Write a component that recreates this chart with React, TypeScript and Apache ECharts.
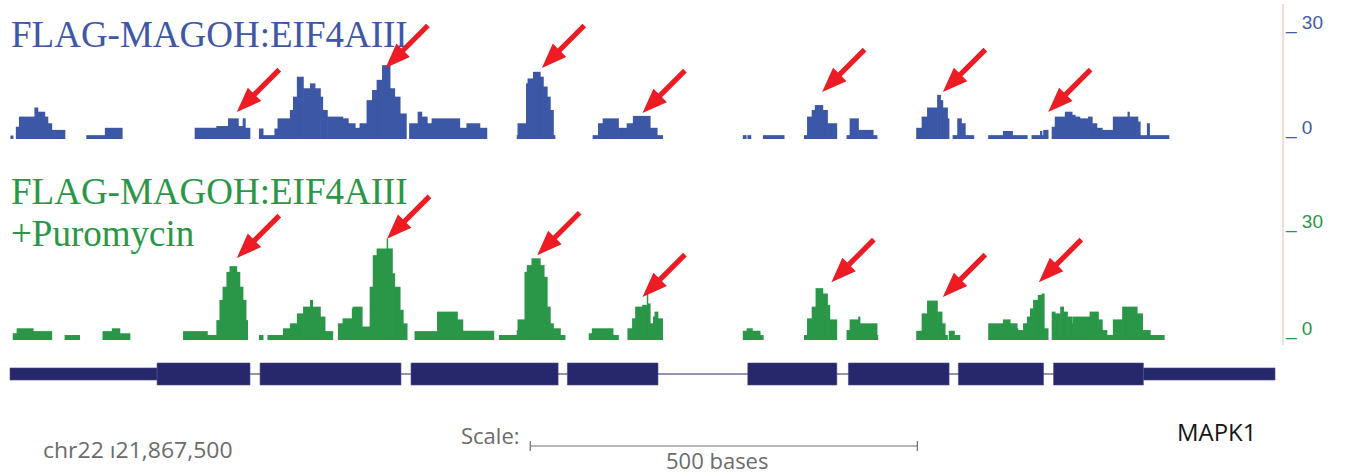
import React, { useEffect, useRef } from 'react';
import * as echarts from 'echarts';

// x axis: bases from the left edge of the window
const SPAN = 1634;
const Y_TICKS = [0, 30];

// coverage runs: [startBase, endBase, value]
const blueRuns: number[][] = [
  [1,4,1],[8,12,3.5],[12,32,6.4],[32,36,9],[36,45,7.8],[45,49,6.4],[49,54,4.5],[54,71,2.6],
  [99,123,1.1],[123,145,3.2],
  [239,267,3.2],[267,282,3.7],[282,295,5.9],[295,301,3.7],[301,304,5.9],[304,310,3.2],
  [322,327,3],[327,342,1.1],[342,346,3],[346,362,5.9],[362,366,8.3],[366,371,12.1],[371,379,17.8],[379,388,14.5],[388,394,15.9],[394,401,14.5],[401,404,12.1],[404,410,8.3],[410,430,6.4],[430,437,5.9],[437,446,4.5],[446,452,3.2],[452,461,4.5],[461,468,11.1],[468,474,14],[474,481,16.9],[481,491,21.1],[491,497,14.5],[497,504,12.1],[504,512,7.3],
  [516,527,4.5],[527,532,7.8],[532,539,6.4],[539,545,4.5],[545,581,5.9],[581,590,3.2],[590,607,4.5],[607,616,3.2],
  [655,656,1.1],[656,667,4.5],[667,669,15.9],[669,676,17.3],[676,685,19.2],[685,689,17.8],[689,694,15],[694,698,12.1],[698,702,8.3],[702,704,1.1],
  [753,760,1.1],[760,766,4.5],[766,786,5.9],[786,797,3.2],[797,805,4.5],[805,827,6.6],[827,836,3.2],[836,843,1.1],
  [947,951,1.1],[953,957,1.1],[973,1000,1.1],
  [1026,1030,1.1],[1030,1036,6.4],[1036,1040,8.3],[1040,1050,9.7],[1050,1056,8.3],[1056,1068,4.5],
  [1081,1085,1.1],[1085,1096,5.9],[1096,1115,2.6],[1115,1120,1.1],
  [1171,1178,3.2],[1178,1185,6.4],[1185,1198,9],[1198,1202,12.6],[1202,1205,11.1],[1205,1211,9],[1211,1213,5.9],
  [1218,1224,1.1],[1224,1229,5.9],[1229,1234,4.5],[1234,1245,1.1],
  [1264,1283,1.1],[1283,1295,2.3],[1295,1314,1.1],
  [1320,1331,1.1],[1331,1333,2.3],[1333,1335,1.1],[1335,1341,2.6],
  [1346,1350,3.5],[1350,1363,6.4],[1363,1372,7.8],[1372,1376,6.9],[1376,1382,6.4],[1382,1393,5.9],[1393,1398,6.4],[1398,1404,4.5],[1404,1411,3.2],[1411,1425,2.6],[1425,1444,6.4],[1444,1446,7.8],[1446,1457,6.4],[1457,1460,5],[1460,1469,1.1],[1469,1472,4.5],[1472,1497,1.1]
];

const greenRuns: number[][] = [
  [4,9,1.9],[9,30,3.3],[30,54,2.5],
  [71,90,1.4],
  [120,132,2.5],[132,142,3.3],[142,155,1.9],
  [224,255,2.5],[255,267,1.4],[267,271,5.6],[271,275,11.3],[275,280,15],[280,284,19.2],[284,293,20.8],[293,297,19.2],[297,301,15],[301,305,11.3],[305,307,5.6],
  [322,327,1.4],
  [333,353,1.4],[353,362,3.3],[362,371,4.7],[371,379,7.5],[379,388,9.4],[388,391,11.3],[391,401,9.4],[401,407,6.6],[407,417,2.5],
  [424,430,4.7],[430,442,6.1],[442,443,8.9],[443,455,9.4],[455,465,3.8],[465,469,15],[469,474,23.9],[474,487,25.8],[487,488,28.6],[488,494,25.8],[494,497,18.8],[497,504,15],[504,508,8.5],[508,513,4.7],
  [523,552,2.5],[552,578,8],[578,585,5.8],[585,625,2.6],
  [632,655,1.4],[655,656,2.8],[656,665,5.8],[665,668,19.2],[668,674,21.1],[674,685,23],[685,690,21.1],[690,694,17.8],[694,698,9.4],[698,702,4.7],[702,711,3.3],[711,717,1.4],
  [748,752,1.9],[752,779,3.3],[779,786,1.4],
  [798,804,3.3],[804,808,6.1],[808,817,9.4],[817,823,9.9],[823,824,13.1],[824,827,10.3],[827,831,4.7],[831,833,6.6],[833,837,8],[837,843,6.1],
  [947,952,2.6],[952,959,3.3],[959,969,2.6],[969,973,1.4],
  [1026,1030,1.4],[1030,1036,6.1],[1036,1041,9.4],[1041,1050,14.6],[1050,1056,13.1],[1056,1059,9.9],[1059,1068,5.8],
  [1081,1085,2.8],[1085,1096,5.8],[1096,1098,6.6],[1098,1120,4.7],[1120,1121,1.4],
  [1171,1178,2.6],[1178,1185,7.5],[1185,1198,11.1],[1198,1204,8],[1204,1208,4.7],[1208,1211,1.4],
  [1213,1220,2.6],[1220,1227,1.4],
  [1264,1283,4.7],[1283,1292,5.8],[1292,1301,4.7],[1301,1302,3.3],[1302,1309,2.8],[1309,1314,4.7],[1314,1318,6.6],[1318,1322,8.9],[1322,1328,11.3],[1328,1333,12.7],[1333,1336,13.1],[1336,1341,3.3],
  [1346,1350,8],[1350,1357,7.5],[1357,1361,9.4],[1361,1366,8],[1366,1372,6.6],[1372,1373,4.7],[1373,1395,6.6],[1395,1406,8],[1406,1411,5.8],[1411,1417,2.8],[1417,1425,1.4],[1425,1437,5.8],[1437,1456,9.4],[1456,1463,7.5],[1463,1473,2.8],[1473,1491,1.4]
];

// arrow tips: [base, value]
const blueArrows: number[][] = [[293,7.7],[485,20.3],[687,20.3],[817,7.4],[1049,13.4],[1205,13.4],[1341,7.7]];
const greenArrows: number[][] = [[293,23.1],[487,28.5],[681,23.9],[817,12.1],[1061,16.3],[1205,12.1],[1329,16.3]];

// gene model (MAPK1)
const intronSpan: number[][] = [[190,1464]];
const utrParts: number[][] = [[0,190],[1464,1634]];
const cdsExons: number[][] = [[190,310],[323,505],[518,708],[720,837],[953,1068],[1083,1213],[1225,1335],[1348,1464]];
const scaleBar: number[][] = [[672,1172]];

const BLUE = '#3d57a7';
const GREEN = '#299747';
const NAVY = '#27286c';
const RED = '#ed1c24';
const GRAY = '#6b6b6b';

const runRender = (color: string) => (_p: any, api: any) => {
  const a = api.coord([api.value(0), api.value(2)]);
  const b = api.coord([api.value(1), 0]);
  // slight horizontal overlap between neighbouring runs hides anti-aliasing seams
  return {
    type: 'rect',
    shape: { x: a[0] - 0.35, y: a[1], width: b[0] - a[0] + 0.7, height: b[1] - a[1] },
    style: { fill: color },
  };
};

const arrowRender = (_p: any, api: any) => {
  const p = api.coord([api.value(0), api.value(1)]);
  const L = 60, Lh = 25, H = 9.5, s = 2.6;
  const k = Math.SQRT1_2;
  const pt = (a: number, b: number) => [p[0] + a * k + b * k, p[1] - a * k + b * k];
  return {
    type: 'polygon',
    shape: { points: [pt(0, 0), pt(Lh, H), pt(Lh, s), pt(L, s), pt(L, -s), pt(Lh, -s), pt(Lh, -H)] },
    style: { fill: RED },
  };
};

const geneRender = (_p: any, api: any) => {
  const s = api.value(0), e = api.value(1), kind = api.value(2);
  if (kind === 0) {
    const a = api.coord([s, 0]), b = api.coord([e, 0]);
    return { type: 'line', shape: { x1: a[0], y1: a[1], x2: b[0], y2: b[1] }, style: { stroke: NAVY, lineWidth: 1 } };
  }
  const h = kind === 2 ? 1 : 0.55;
  const a = api.coord([s, h]), b = api.coord([e, -h]);
  return {
    type: 'rect',
    shape: { x: a[0], y: a[1], width: b[0] - a[0], height: b[1] - a[1] },
    style: { fill: NAVY, stroke: '#4a4c8c', lineWidth: 0.6 },
  };
};

const scaleRender = (_p: any, api: any) => {
  const a = api.coord([api.value(0), 0]);
  const b = api.coord([api.value(1), 0]);
  const y = 446;
  const st = { stroke: '#6e6e6e', lineWidth: 1.2 };
  return {
    type: 'group',
    children: [
      { type: 'line', shape: { x1: a[0], y1: y, x2: b[0], y2: y }, style: st },
      { type: 'line', shape: { x1: a[0], y1: y - 5, x2: a[0], y2: y + 5 }, style: st },
      { type: 'line', shape: { x1: b[0], y1: y - 5, x2: b[0], y2: y + 5 }, style: st },
    ],
  };
};

const yAxisFor = (grid: number, color: string) => ({
  gridIndex: grid,
  type: 'value',
  min: Y_TICKS[0],
  max: Y_TICKS[Y_TICKS.length - 1],
  interval: 30,
  position: 'right',
  offset: 8,
  axisLine: { show: false },
  axisTick: { show: false },
  splitLine: { show: false },
  axisLabel: {
    margin: 3,
    formatter: '_ {value}',
    color,
    fontSize: 19,
    fontFamily: 'Liberation Sans, Arial, sans-serif',
    verticalAlign: 'bottom',
    lineHeight: 24,
  },
});

const textEl = (text: string, x: number, y: number, font: string, fill: string, scaleX = 1) => ({
  type: 'text',
  x,
  y,
  scaleX,
  style: { text, x: 0, y: 0, font, fill, verticalAlign: 'middle', align: 'left' },
});

export default function App() {
  const ref = useRef<HTMLDivElement>(null);
  useEffect(() => {
    if (!ref.current) return;
    const chart = echarts.init(ref.current, null, { renderer: 'svg' });
    const geneData = [
      ...intronSpan.map((d) => [d[0], d[1], 0]),
      ...utrParts.map((d) => [d[0], d[1], 1]),
      ...cdsExons.map((d) => [d[0], d[1], 2]),
    ];
    const serif = '37px "Liberation Serif", "Times New Roman", serif';
    const sans = '22px "Open Sans", sans-serif';
    chart.setOption({
      animation: false,
      grid: [
        { left: 10, top: 34, width: 1265, height: 105 },
        { left: 10, top: 233.5, width: 1265, height: 106.5 },
        { left: 10, top: 363, width: 1265, height: 22 },
      ],
      xAxis: [0, 1, 2].map((g) => ({ gridIndex: g, type: 'value', min: 0, max: SPAN, show: false })),
      yAxis: [
        yAxisFor(0, '#3f5aa9'),
        yAxisFor(1, GREEN),
        { gridIndex: 2, type: 'value', min: -1, max: 1, show: false },
      ],
      series: [
        { type: 'custom', xAxisIndex: 0, yAxisIndex: 0, data: blueRuns, encode: { x: [0, 1], y: 2 }, renderItem: runRender(BLUE), clip: false, silent: true },
        { type: 'custom', xAxisIndex: 1, yAxisIndex: 1, data: greenRuns, encode: { x: [0, 1], y: 2 }, renderItem: runRender(GREEN), clip: false, silent: true },
        { type: 'custom', xAxisIndex: 0, yAxisIndex: 0, data: blueArrows, encode: { x: 0, y: 1 }, renderItem: arrowRender, clip: false, silent: true, z: 5 },
        { type: 'custom', xAxisIndex: 1, yAxisIndex: 1, data: greenArrows, encode: { x: 0, y: 1 }, renderItem: arrowRender, clip: false, silent: true, z: 5 },
        { type: 'custom', xAxisIndex: 2, yAxisIndex: 2, data: geneData, encode: { x: [0, 1], y: 2 }, renderItem: geneRender, clip: false, silent: true },
        { type: 'custom', xAxisIndex: 2, yAxisIndex: 2, data: scaleBar, encode: { x: [0, 1] }, renderItem: scaleRender, clip: false, silent: true },
      ],
      graphic: [
        { type: 'line', shape: { x1: 1283, y1: 4, x2: 1283, y2: 345 }, style: { stroke: '#f4b3b3', lineWidth: 1 } },
        textEl('FLAG-MAGOH:EIF4AIII', 11, 34.5, serif, '#3f57a7'),
        textEl('FLAG-MAGOH:EIF4AIII', 11, 191.5, serif, GREEN),
        textEl('+Puromycin', 11, 233.5, serif, GREEN),
        textEl('chr22 \u013121,867,500', 43, 449.5, sans, GRAY, 1.045),
        textEl('Scale:', 461, 435, sans, GRAY),
        textEl('500 bases', 666, 459.5, sans, GRAY),
        textEl('MAPK1', 1177, 432.5, '23.5px "Open Sans", sans-serif', '#151515', 1.02),
      ],
    });
    return () => chart.dispose();
  }, []);
  return <div ref={ref} style={{ position: 'fixed', left: 0, top: 0, width: 1345, height: 475, background: '#fff' }} />;
}
